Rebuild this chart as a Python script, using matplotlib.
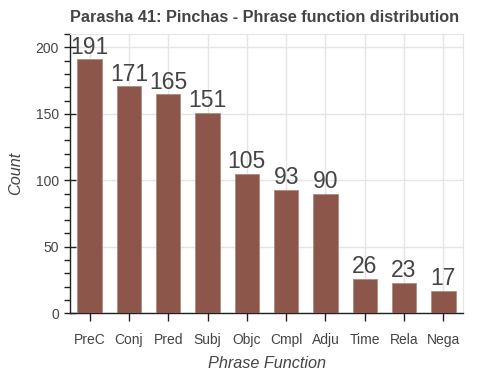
import matplotlib

matplotlib.use("Agg")

import matplotlib.pyplot as plt
from matplotlib.ticker import MultipleLocator


# Phrase function counts
CATEGORIES = [
    "PreC", "Conj", "Pred", "Subj", "Objc",
    "Cmpl", "Adju", "Time", "Rela", "Nega",
]
COUNTS = [191, 171, 165, 151, 105, 93, 90, 26, 23, 17]

TITLE = "Parasha 41: Pinchas - Phrase function distribution"

TEXT_COLOR = "#444444"
BAR_COLOR = "#8c564b"
GRID_COLOR = "#e5e5e5"

plt.rcParams["font.family"] = ["Liberation Sans", "DejaVu Sans"]

fig = plt.figure(figsize=(5, 3.75), dpi=100)
ax = fig.add_axes([0.14, 0.165, 0.786, 0.744])

positions = range(len(CATEGORIES))

bars = ax.bar(
    positions,
    COUNTS,
    width=0.62,
    color=BAR_COLOR,
    edgecolor="#b08a80",
    linewidth=0.6,
    zorder=3,
)

for bar, value in zip(bars, COUNTS):
    ax.text(
        bar.get_x() + bar.get_width() / 2,
        bar.get_height() + 0.3,
        str(value),
        ha="center",
        va="bottom",
        fontsize=16.5,
        color=TEXT_COLOR,
        zorder=4,
    )

ax.set_xlim(-0.5, len(CATEGORIES) - 0.5)
ax.set_ylim(0, 210)

ax.set_xticks(list(positions))
ax.set_xticklabels(CATEGORIES)

ax.yaxis.set_major_locator(MultipleLocator(50))
ax.yaxis.set_minor_locator(MultipleLocator(10))

ax.grid(True, color=GRID_COLOR, linewidth=1, zorder=0)
ax.set_axisbelow(True)

ax.tick_params(
    axis="x",
    direction="out",
    length=6,
    width=1,
    color="#222222",
    labelsize=10,
    labelcolor=TEXT_COLOR,
    pad=8,
)
ax.tick_params(
    axis="y",
    which="major",
    direction="inout",
    length=8,
    width=1,
    color="#222222",
    labelsize=10,
    labelcolor=TEXT_COLOR,
    pad=4,
)
ax.tick_params(
    axis="y",
    which="minor",
    direction="out",
    length=4,
    width=1,
    color="#222222",
)

for side in ["top", "right"]:
    ax.spines[side].set_color(GRID_COLOR)
for side in ["left", "bottom"]:
    ax.spines[side].set_color("#222222")
    ax.spines[side].set_linewidth(1)

ax.set_xlabel(
    "Phrase Function",
    fontsize=11.7,
    style="italic",
    color=TEXT_COLOR,
    labelpad=7,
)
ax.set_ylabel(
    "Count",
    fontsize=11.7,
    style="italic",
    color=TEXT_COLOR,
    labelpad=9,
)

ax.set_title(
    TITLE,
    loc="left",
    fontsize=11.7,
    fontweight="bold",
    color=TEXT_COLOR,
    pad=9,
)

fig.savefig("out.png", dpi=100)
plt.close(fig)
